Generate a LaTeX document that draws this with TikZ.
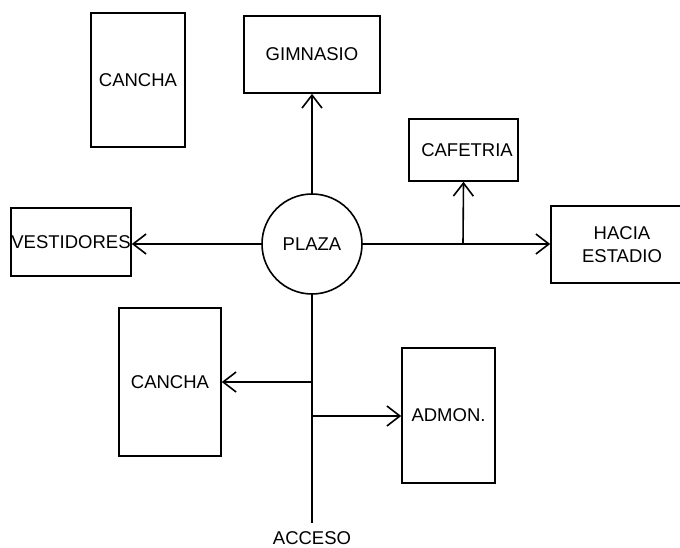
\documentclass[tikz,border=0pt]{standalone}
\usepackage{fontspec}
\setmainfont{Liberation Sans}
\usetikzlibrary{arrows.meta}
\begin{document}
\begin{tikzpicture}[x=1pt,y=-1pt,
  box/.style={draw, line width=1.6pt, rectangle, inner sep=0pt, align=center, font=\fontsize{18.5}{23}\selectfont},
  conn/.style={line width=1.6pt},
  arr/.style={line width=1.6pt, -{Straight Barb[length=13pt,width=20pt,line width=1.6pt]}}]
\useasboundingbox (0,0) rectangle (680,548);
\node[box, minimum width=94, minimum height=134] (cancha1) at (138,80) {CANCHA};
\node[box, minimum width=136, minimum height=77] (gim) at (312,54.5) {GIMNASIO};
\node[box, minimum width=120, minimum height=68] (vest) at (71,242) {VESTIDORES};
\node[box, circle, minimum size=100] (plaza) at (312,244) {PLAZA};
\node[box, minimum width=109, minimum height=62] (cafe) at (463.5,150) {\hspace*{7pt}CAFETRIA};
\node[box, minimum width=142, minimum height=77] (hacia) at (622,244.5) {HACIA\\ESTADIO};
\node[box, minimum width=102, minimum height=148] (cancha2) at (170,382) {CANCHA};
\node[box, minimum width=93, minimum height=135] (admon) at (448.5,415.5) {ADMON.};
\node[font=\fontsize{18.5}{23}\selectfont, inner sep=0pt] (acceso) at (312,538) {ACCESO};
\coordinate (j1) at (463,244);
\coordinate (j2) at (312,382);
\coordinate (j3) at (312,416);
\coordinate (bot) at (312,523);
\draw[arr] (plaza.north) -- (gim.south);
\draw[arr] (plaza.west) -- (vest.east |- plaza.west);
\draw[arr] (plaza.east) -- (hacia.west |- plaza.east);
\draw[arr] (j1) -- (cafe.south);
\draw[conn] (plaza.south) -- (bot);
\draw[arr] (j2) -- (cancha2.east);
\draw[arr] (j3) -- (admon.west |- j3);
\end{tikzpicture}
\end{document}
